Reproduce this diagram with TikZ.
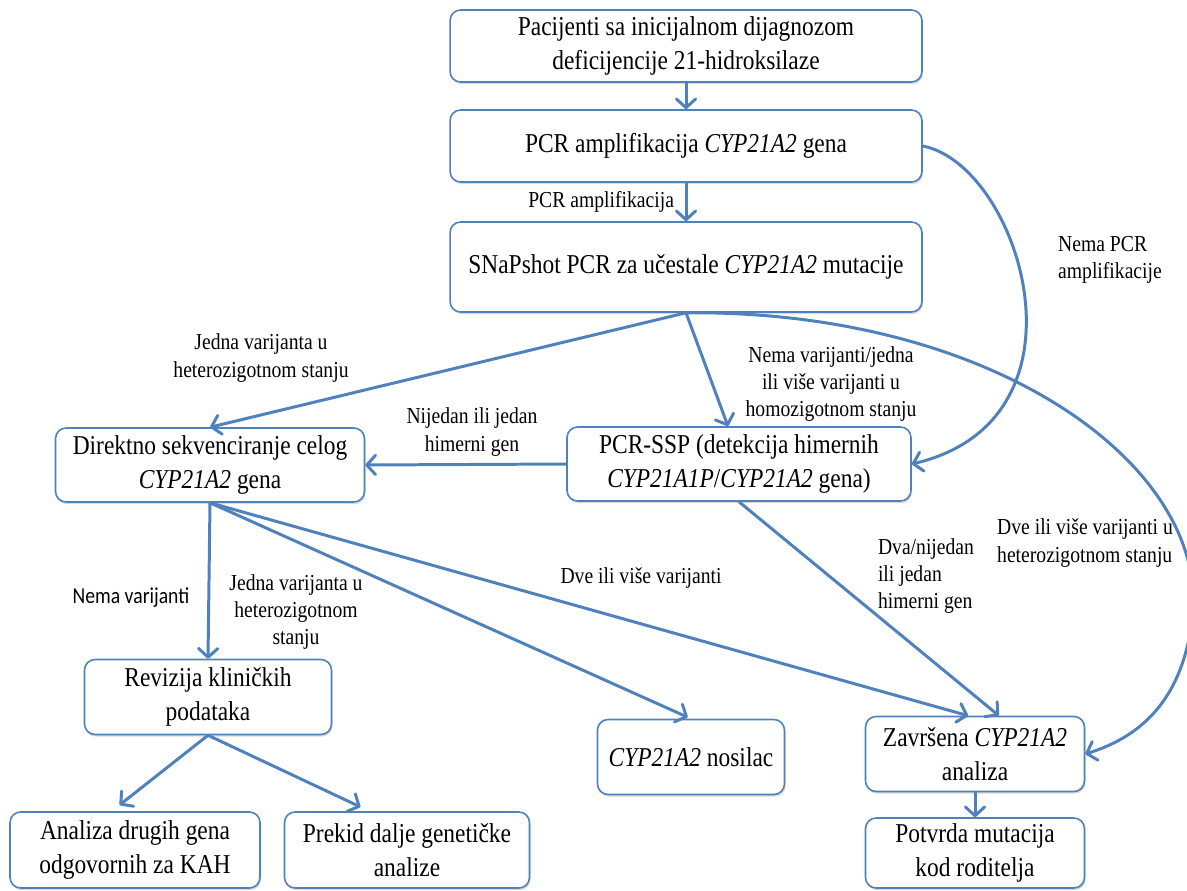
\documentclass[tikz,border=0pt]{standalone}
\usepackage{fontspec}
\setmainfont{Liberation Serif}[FakeStretch=0.86]
\newfontfamily\calibri{Carlito}[FakeStretch=0.86]
\usetikzlibrary{arrows.meta,shadows}
\definecolor{flowblue}{HTML}{4F81BD}

\begin{document}
\begin{tikzpicture}[
    x=0.02cm, y=-0.02cm,
    box/.style={
        rectangle, rounded corners=6pt, draw=flowblue, fill=white, line width=0.9pt,
        align=center, inner sep=2pt, font=\fontsize{15.5}{19.3}\selectfont,
        drop shadow={shadow xshift=0.6pt, shadow yshift=-1.2pt, opacity=0.25, fill=black!60}
    },
    lbl/.style={align=center, inner sep=0pt, font=\fontsize{13}{15.5}\selectfont},
    arr/.style={draw=flowblue, line width=1.7pt, -{Straight Barb[length=5pt,width=11pt,round]}}
]

\useasboundingbox (0,0) rectangle (1187,890);

\node[box, minimum width=9.44cm, minimum height=1.44cm] (start) at (686,46) {Pacijenti sa inicijalnom dijagnozom\\deficijencije 21-hidroksilaze};
\node[box, minimum width=9.44cm, minimum height=1.44cm] (pcr) at (686,146) {PCR amplifikacija \textit{CYP21A2} gena};
\node[box, minimum width=9.44cm, minimum height=1.8cm] (snap) at (686,267) {SNaPshot PCR za učestale \textit{CYP21A2} mutacije};
\node[box, minimum width=6.18cm, minimum height=1.48cm] (seq) at (210,465) {Direktno sekvenciranje celog\\\textit{CYP21A2} gena};
\node[box, minimum width=6.88cm, minimum height=1.48cm] (ssp) at (739,464) {PCR-SSP (detekcija himernih\\\textit{CYP21A1P}/\textit{CYP21A2} gena)};
\node[box, minimum width=4.94cm, minimum height=1.5cm] (rev) at (208,697) {Revizija kliničkih\\podataka};
\node[box, minimum width=3.74cm, minimum height=1.5cm] (nos) at (691,757) {\textit{CYP21A2} nosilac};
\node[box, minimum width=4.38cm, minimum height=1.5cm] (zav) at (975,754) {Završena \textit{CYP21A2}\\analiza};
\node[box, minimum width=5.0cm, minimum height=1.52cm] (ana) at (135,850) {Analiza drugih gena\\odgovornih za KAH};
\node[box, minimum width=4.9cm, minimum height=1.52cm] (pre) at (407,850) {Prekid dalje genetičke\\analize};
\node[box, minimum width=4.38cm, minimum height=1.4cm] (pot) at (975,853) {Potvrda mutacija\\kod roditelja};

\foreach \a/\b in {start/pcr, ssp.west/seq.east, seq.south/rev.north, zav/pot}
    \draw[arr] (\a) -- (\b);

\draw[arr] (pcr) -- node[lbl, left=6pt] (lPcr) {PCR amplifikacija} (snap);
\draw[arr] (pcr.east) .. controls (1020,165) and (1100,420) .. (ssp.east);
\draw[arr] (snap.south) -- (seq.north);
\draw[arr] (snap.south) -- ([xshift=-0.22cm]ssp.north);
\draw[arr] (snap.south) .. controls (1000,310) and (1212,470) .. (1192,620)
    .. controls (1181,710) and (1130,740) .. (zav.east);
\draw[arr] (ssp.south) -- (zav.58);
\draw[arr, shorten >=2pt] (seq.south) -- (nos.north);
\draw[arr] (seq.south) -- (zav.100);
\draw[arr, shorten >=0.2cm] (rev.south) -- (ana.121);
\draw[arr, shorten >=0.2cm] (rev.south) -- (pre.134);

\node[lbl] (lSnapSeq) at (261,358) {Jedna varijanta u\\heterozigotnom stanju};
\node[lbl] (lSnapSsp) at (831,384) {Nema varijanti/jedna\\ili više varijanti u\\homozigotnom stanju};
\node[lbl, align=left] (lNoAmp) at (1110,260) {Nema PCR\\amplifikacije};
\node[lbl, align=left] (lSnapZav) at (1085,543) {Dve ili više varijanti u\\heterozigotnom stanju};
\node[lbl] (lSspSeq) at (472,432) {Nijedan ili jedan\\himerni gen};
\node[lbl, align=left] (lSspZav) at (926,576) {Dva/nijedan\\ili jedan\\himerni gen};
\node[lbl, font=\calibri\fontsize{13}{15.5}\selectfont] (lSeqRev) at (131,598) {Nema varijanti};
\node[lbl] (lSeqNos) at (296,612) {Jedna varijanta u\\heterozigotnom\\stanju};
\node[lbl] (lSeqZav) at (641,578) {Dve ili više varijanti};

\end{tikzpicture}
\end{document}
